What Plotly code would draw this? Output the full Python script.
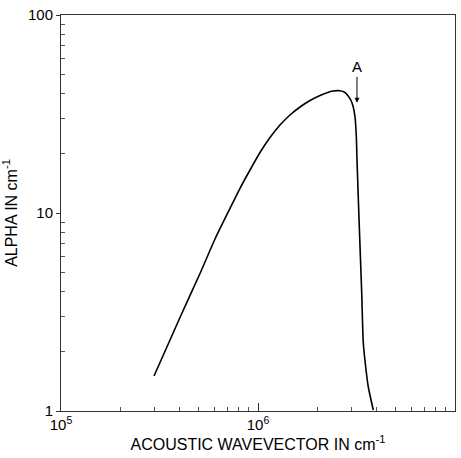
import math
import plotly.graph_objects as go

# Curve
wavevector = [2.966e5, 4.018e5, 5.077e5, 6.050e5, 7.211e5, 8.103e5, 9.109e5, 1.0238e6, 1.1506e6,
              1.2931e6, 1.4535e6, 1.6338e6, 1.8365e6, 2.0637e6, 2.2403e6, 2.4033e6, 2.6078e6,
              2.7647e6, 2.8632e6, 2.9656e6, 3.0357e6, 3.1075e6, 3.155e6, 3.181e6, 3.268e6,
              3.361e6, 3.424e6, 3.521e6, 3.630e6, 3.777e6, 3.848e6]
alpha = [1.503, 2.967, 4.950, 7.392, 10.56, 13.33, 16.49, 20.21, 24.06,
         27.83, 31.26, 34.30, 37.00, 39.22, 40.52, 41.32, 41.42,
         40.62, 39.08, 37.00, 34.70, 30.53, 24.49, 18.52, 8.50,
         3.945, 2.205, 1.668, 1.322, 1.098, 1.012]

x_tick_vals = [1e5, 1e6, 1e7]
x_tick_text = ["10<sup>5</sup>", "10<sup>6</sup>", "10<sup>7</sup>"]
y_tick_vals = [1, 10, 100]
y_tick_text = ["1", "10", "100"]
x_minor = [k * 10 ** e for e in (5, 6) for k in range(2, 10)]
y_minor = [k * 10 ** e for e in (0, 1) for k in range(2, 10)]

marker_x = 3.18e6
marker_y = 36
marker_label = "A"

font = "Liberation Sans, Arial, sans-serif"

fig = go.Figure()
fig.add_trace(go.Scatter(x=wavevector, y=alpha, mode="lines",
                         line=dict(color="black", width=1.6, shape="spline", smoothing=0.6),
                         showlegend=False, hoverinfo="skip"))

fig.add_annotation(x=math.log10(marker_x), y=math.log10(marker_y), xref="x", yref="y",
                   text=marker_label, showarrow=True, ax=0, ay=-36,
                   arrowhead=2, arrowsize=1.0, arrowwidth=1, arrowcolor="black",
                   font=dict(family=font, size=15, color="black"))

fig.update_xaxes(type="log", range=[5, 7], tickvals=x_tick_vals, ticktext=x_tick_text,
                 ticks="inside", ticklen=8, tickwidth=1, tickcolor="#333",
                 minor=dict(tickvals=x_minor, ticks="inside", ticklen=4, tickwidth=1, tickcolor="#555"),
                 showline=True, linecolor="#333", linewidth=1, mirror=True,
                 showgrid=False, zeroline=False,
                 tickfont=dict(family=font, size=15, color="black"),
                 title=dict(text="ACOUSTIC WAVEVECTOR IN cm<sup>-1</sup>", standoff=4,
                            font=dict(family=font, size=16, color="black")))
fig.update_yaxes(type="log", range=[0, 2], tickvals=y_tick_vals, ticktext=y_tick_text,
                 ticks="outside", ticklen=4, tickwidth=1, tickcolor="#333",
                 minor=dict(tickvals=y_minor, ticks="inside", ticklen=4, tickwidth=1, tickcolor="#555"),
                 showline=True, linecolor="#333", linewidth=1, mirror=True,
                 showgrid=False, zeroline=False,
                 tickfont=dict(family=font, size=15, color="black"),
                 title=dict(text="ALPHA IN cm<sup>-1</sup>", standoff=6,
                            font=dict(family=font, size=16, color="black")))

fig.update_layout(width=461, height=458, margin=dict(l=61, r=6, t=15, b=47),
                  paper_bgcolor="white", plot_bgcolor="white")

fig.write_html("out.html", config={"displayModeBar": False},
               post_script="document.body.style.margin='0';document.body.style.overflow='hidden';")
